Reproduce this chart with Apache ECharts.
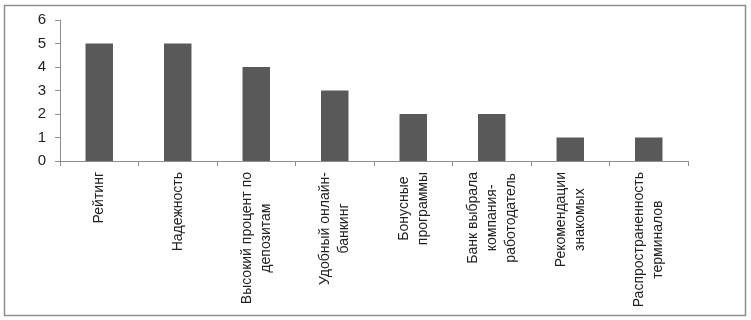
<!DOCTYPE html>
<html><head><meta charset="utf-8">
<script src="https://cdn.jsdelivr.net/npm/echarts@6/dist/echarts.min.js"></script>
<style>html,body{margin:0;padding:0;background:#fff}#c{width:751px;height:320px}</style>
</head><body><div id="c"></div>
<script>
var categories = ["Рейтинг", "Надежность", "Высокий процент по\nдепозитам", "Удобный онлайн-\nбанкинг", "Бонусные\nпрограммы", "Банк выбрала\nкомпания-\nработодатель", "Рекомендации\nзнакомых", "Распространенность\nтерминалов"];
var values = [5, 5, 4, 3, 2, 2, 1, 1];
var yTicks = [0, 1, 2, 3, 4, 5, 6];

var chart = echarts.init(document.getElementById('c'), null, {renderer: 'canvas'});
var font = 'Liberation Sans';
chart.setOption({
  animation: false,
  backgroundColor: '#fff',
  graphic: [{type: 'rect', shape: {x: 4.5, y: 5.5, width: 741, height: 310}, style: {fill: 'none', stroke: '#8e8e8e', lineWidth: 1.5}, silent: true}],
  grid: {left: 60, right: 63, top: 20, bottom: 159, containLabel: false},
  xAxis: {
    type: 'category',
    data: categories,
    axisLine: {lineStyle: {color: '#8e8e8e', width: 1}},
    axisTick: {show: true, alignWithLabel: false, length: 5, lineStyle: {color: '#8e8e8e'}},
    axisLabel: {
      interval: 0, rotate: 90, margin: 11,
      fontFamily: font, fontSize: 14, color: '#222',
      formatter: function (v) { return v.split('\n').map(function (s) { return '{c|' + s + '}'; }).join('\n'); },
      rich: {c: {align: 'center', fontFamily: font, fontSize: 14, color: '#222', lineHeight: 19}}
    }
  },
  yAxis: {
    type: 'value', min: yTicks[0], max: yTicks[yTicks.length - 1], interval: 1,
    splitLine: {show: false},
    axisLine: {show: true, lineStyle: {color: '#8e8e8e', width: 1}},
    axisTick: {show: true, length: 5, lineStyle: {color: '#8e8e8e'}},
    axisLabel: {margin: 14, fontFamily: font, fontSize: 15, color: '#222'}
  },
  series: [{
    type: 'bar', data: values, barWidth: '35%',
    itemStyle: {color: '#595959'}
  }]
});
</script></body></html>
